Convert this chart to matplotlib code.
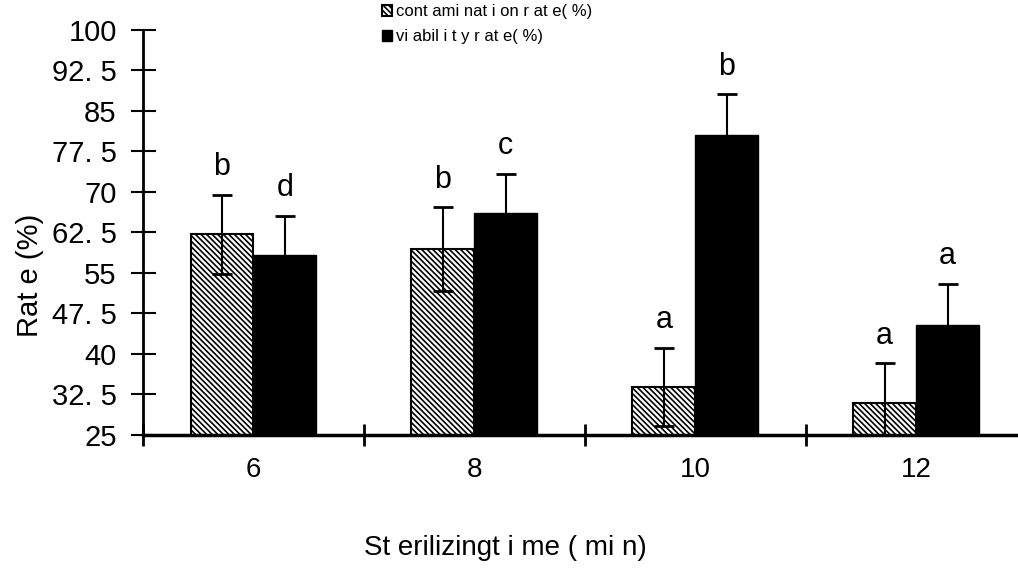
import numpy as np
import matplotlib.pyplot as plt

# data
times = ['6', '8', '10', '12']
contamination = [62.2, 59.4, 33.9, 30.9]
contamination_err = [7.3, 7.8, 7.3, 7.4]
viability = [58.3, 66.1, 80.6, 45.4]
viability_err = [7.3, 7.3, 7.5, 7.6]
letters_cont = ['b', 'b', 'a', 'a']
letters_via = ['d', 'c', 'b', 'a']
y_ticks = [25, 32.5, 40, 47.5, 55, 62.5, 70, 77.5, 85, 92.5, 100]
y_tick_labels = ['25', '32. 5', '40', '47. 5', '55', '62. 5', '70', '77. 5', '85', '92. 5', '100']

plt.rcParams['font.family'] = ['Liberation Sans', 'DejaVu Sans']
plt.rcParams['hatch.linewidth'] = 1.2

fig = plt.figure(figsize=(10.18, 5.71), dpi=100)
ax = fig.add_axes([0.1405, 0.2382, 0.868, 0.7093])

x = np.arange(len(times))
w = 0.285

b1 = ax.bar(x - w / 2, contamination, w, color='white', edgecolor='black',
            hatch='\\\\\\\\\\\\', linewidth=1.5, label='cont ami nat i on r at e( %)', zorder=2)
b2 = ax.bar(x + w / 2, viability, w, color='black', edgecolor='black',
            linewidth=1.0, label='vi abil i t y r at e( %)', zorder=2)

ax.errorbar(x - w / 2, contamination, yerr=contamination_err, fmt='none',
            ecolor='black', elinewidth=1.5, capsize=7, capthick=2, zorder=3)
ax.errorbar(x + w / 2, viability, yerr=viability_err, fmt='none',
            ecolor='black', elinewidth=1.5, capsize=7, capthick=2, zorder=3)

# significance letters
for i in range(len(times)):
    ax.annotate(letters_cont[i], (x[i] - w / 2, contamination[i] + contamination_err[i]),
                xytext=(0, 9), textcoords='offset points', ha='center', va='bottom', fontsize=22)
    ax.annotate(letters_via[i], (x[i] + w / 2, viability[i] + viability_err[i]),
                xytext=(0, 9), textcoords='offset points', ha='center', va='bottom', fontsize=22)

ax.set_ylim(25, 100)
ax.set_xlim(-0.5, 3.5)
ax.set_yticks(y_ticks)
ax.set_yticklabels(y_tick_labels, fontsize=21)
ax.set_xticks(x)
ax.set_xticklabels(times, fontsize=20)
ax.set_xticks(np.arange(len(times)) - 0.5, minor=True)
ax.tick_params(axis='x', which='major', length=0, pad=16)
ax.tick_params(axis='x', which='minor', direction='inout', length=16, width=2)
ax.tick_params(axis='y', direction='inout', length=18, width=1.5, pad=10)

for s in ['top', 'right']:
    ax.spines[s].set_visible(False)
ax.spines['left'].set_linewidth(2)
ax.spines['bottom'].set_linewidth(2.5)

fig.text(505 / 1018, 1 - 548 / 571, 'St erilizingt i me ( mi n)', fontsize=20,
         ha='center', va='center')
fig.text(30 / 1018, 1 - 275 / 571, 'Rat e (%)', fontsize=21, rotation=90,
         ha='center', va='center')

fig.legend(handles=[b1, b2], loc='upper left', bbox_to_anchor=(378 / 1018, 1.0),
           frameon=False, fontsize=12, handlelength=0.6,
           handleheight=0.6, handletextpad=0.2, labelspacing=0.6, borderpad=0.25,
           borderaxespad=0)

fig.savefig('out.png', dpi=100)
